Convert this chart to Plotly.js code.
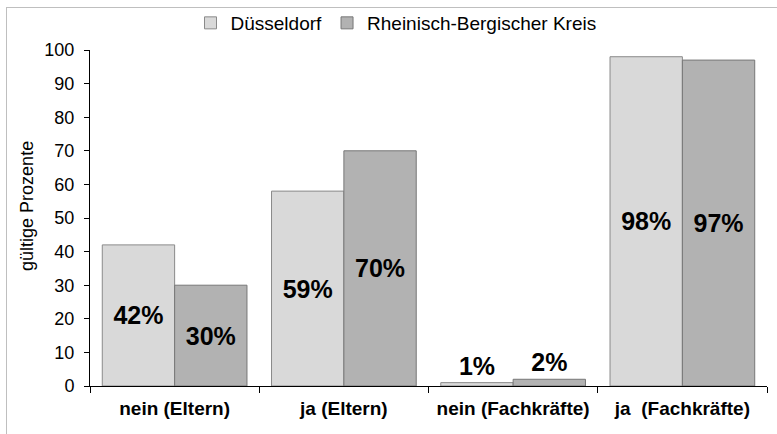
<!DOCTYPE html>
<html>
<head>
<meta charset="utf-8">
<script src="https://cdn.plot.ly/plotly-3.0.1.min.js"></script>
<style>
  html, body { margin: 0; padding: 0; background: #ffffff; }
  #wrap { position: relative; width: 777px; height: 434px; overflow: hidden; }
  #chart { position: absolute; left: 0; top: 0; width: 777px; height: 434px; }
  #frame { position: absolute; left: 6px; top: 7px; width: 800px; height: 460px;
           border-top: 1px solid #bfbfbf; border-left: 1px solid #bfbfbf; pointer-events: none; }
</style>
</head>
<body>
<div id="wrap">
  <div id="chart"></div>
  <div id="frame"></div>
</div>
<script>
const categories = ['nein (Eltern)', 'ja (Eltern)', 'nein (Fachkräfte)', 'ja  (Fachkräfte)'];
const seriesNames = ['Düsseldorf', 'Rheinisch-Bergischer Kreis'];
const duesseldorf = [42, 58, 1, 98];
const rbk = [30, 70, 2, 97];
const duesseldorfLabels = ['42%', '59%', '1%', '98%'];
const rbkLabels = ['30%', '70%', '2%', '97%'];
const yTitle = 'gültige Prozente';

const FONT = 'Liberation Sans, Arial, sans-serif';
const NARROW = 'Liberation Sans Narrow, Arial Narrow, Liberation Sans, sans-serif';
const labelPos = v => v.map(x => x < 10 ? 'outside' : 'inside');
const labelFont = {family: FONT, size: 25, color: '#000000', weight: 'bold'};

const traces = [
  {
    type: 'bar', name: seriesNames[0], x: categories, y: duesseldorf,
    text: duesseldorfLabels, textposition: labelPos(duesseldorf), insidetextanchor: 'middle',
    textangle: 0, textfont: labelFont, insidetextfont: labelFont, outsidetextfont: labelFont,
    cliponaxis: false, constraintext: 'none',
    marker: {color: '#d9d9d9', line: {color: '#8a8a8a', width: 1}},
    hoverinfo: 'skip'
  },
  {
    type: 'bar', name: seriesNames[1], x: categories, y: rbk,
    text: rbkLabels, textposition: labelPos(rbk), insidetextanchor: 'middle',
    textangle: 0, textfont: labelFont, insidetextfont: labelFont, outsidetextfont: labelFont,
    cliponaxis: false, constraintext: 'none',
    marker: {color: '#b2b2b2', line: {color: '#777777', width: 1}},
    hoverinfo: 'skip'
  }
];

const layout = {
  width: 777, height: 434,
  margin: {l: 90, r: 10, t: 50, b: 48, pad: 0, autoexpand: false},
  paper_bgcolor: '#ffffff', plot_bgcolor: '#ffffff',
  font: {family: FONT, color: '#000000'},
  barmode: 'group', bargap: 0.145, bargroupgap: 0,
  showlegend: true,
  legend: {
    orientation: 'h', xref: 'paper', x: 0.452, xanchor: 'center',
    yref: 'container', y: 0.947, yanchor: 'middle',
    font: {family: FONT, size: 19, color: '#000000'},
    itemwidth: 30, traceorder: 'normal', bgcolor: 'rgba(0,0,0,0)'
  },
  xaxis: {
    type: 'category',
    showline: true, linecolor: '#000000', linewidth: 1,
    ticks: 'outside', tickson: 'boundaries', ticklen: 6, tickcolor: '#000000', tickwidth: 1,
    tickfont: {family: FONT, size: 19, color: '#000000', weight: 'bold'},
    ticklabelstandoff: 5,
    showgrid: false, zeroline: false, fixedrange: true
  },
  yaxis: {
    range: [0, 100], dtick: 10, tick0: 0,
    showline: true, linecolor: '#000000', linewidth: 1,
    ticks: 'outside', ticklen: 5, tickcolor: '#000000', tickwidth: 1,
    tickfont: {family: FONT, size: 18, color: '#000000'},
    ticklabelstandoff: 6,
    showgrid: false, zeroline: false, fixedrange: true
  },
  annotations: [{
    text: yTitle, xref: 'paper', yref: 'paper',
    x: -0.093, y: 0.536, xanchor: 'center', yanchor: 'middle',
    textangle: -90, showarrow: false,
    font: {family: NARROW, size: 18, color: '#000000'}
  }]
};

Plotly.newPlot('chart', traces, layout, {displayModeBar: false, staticPlot: true});
</script>
</body>
</html>
